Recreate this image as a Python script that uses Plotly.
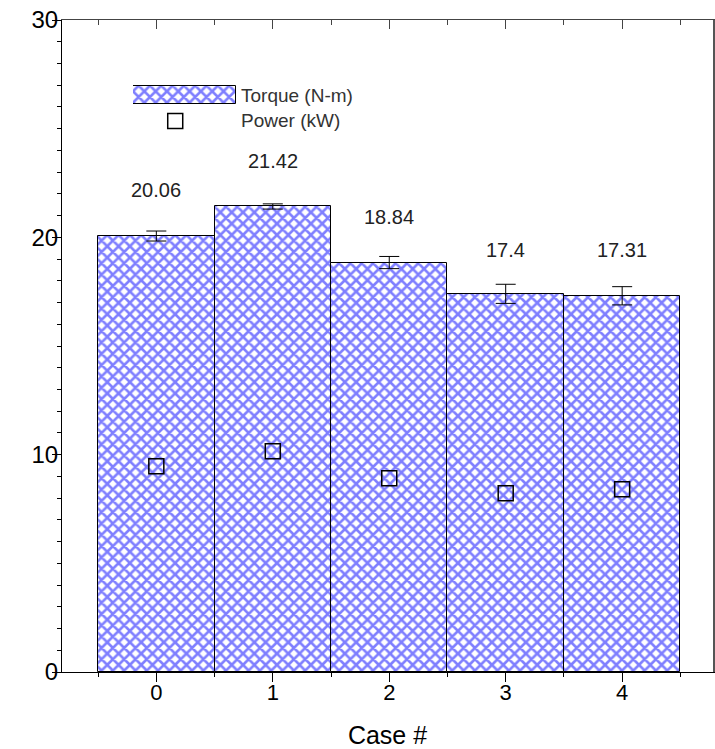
import plotly.graph_objects as go

cases = [0, 1, 2, 3, 4]
torque = [20.06, 21.42, 18.84, 17.4, 17.31]
torque_err = [0.23, 0.12, 0.28, 0.44, 0.42]
power = [9.47, 10.16, 8.92, 8.23, 8.41]
torque_labels = ["20.06", "21.42", "18.84", "17.4", "17.31"]
label_offset = [2.1, 2.1, 2.1, 2.0, 2.1]

W, H = 715, 749
OFF = 0  # page body margin removed by post_script
L, R, T, B = 62, 2, 20, 77
pw, ph = W - L - R, H - T - B

def px_x(x):
    return (x - OFF - L) / pw

def px_y(y):
    return (OFF + H - B - y) / ph

pattern = dict(shape="x", fgcolor="#0000ff", bgcolor="white", size=8, solidity=0.55)
font = "Liberation Sans, Arial, sans-serif"

fig = go.Figure()
fig.add_trace(go.Bar(
    x=cases, y=torque, width=1,
    marker=dict(color="white", pattern=pattern, line=dict(color="black", width=1)),
    error_y=dict(type="data", array=torque_err, color="black", thickness=1, width=10),
    showlegend=False,
))
fig.add_trace(go.Scatter(
    x=cases, y=power, mode="markers",
    marker=dict(symbol="square-open", size=15, color="black", line=dict(width=1.5)),
    showlegend=False,
))
# empty trace so the mirrored top/right axes are drawn
fig.add_trace(go.Scatter(x=[], y=[], xaxis="x2", yaxis="y2", showlegend=False))

# legend swatches on small overlay axes
fig.add_trace(go.Bar(
    x=[0.5], y=[0.36], base=[0.52], width=[1],
    marker=dict(color="white", pattern=pattern, line=dict(color="black", width=1)),
    xaxis="x3", yaxis="y3", showlegend=False, hoverinfo="skip",
))
fig.add_trace(go.Scatter(
    x=[0.41], y=[0.18], mode="markers",
    marker=dict(symbol="square-open", size=15, color="black", line=dict(width=1.5)),
    xaxis="x3", yaxis="y3", showlegend=False, hoverinfo="skip",
))

for c, v, t, o in zip(cases, torque, torque_labels, label_offset):
    fig.add_annotation(x=c, y=v + o, text=t, showarrow=False,
                       font=dict(family=font, size=20, color="#222"))

fig.add_annotation(xref="paper", yref="paper", x=px_x(239), y=px_y(95), text="Torque (N-m)",
                   showarrow=False, xanchor="left", yanchor="middle",
                   font=dict(family=font, size=19, color="#333"))
fig.add_annotation(xref="paper", yref="paper", x=px_x(239), y=px_y(120), text="Power (kW)",
                   showarrow=False, xanchor="left", yanchor="middle",
                   font=dict(family=font, size=19, color="#333"))

xr = [-0.81, 4.78]
yr = [0, 30]
fig.update_layout(
    width=W, height=H,
    margin=dict(l=L, r=R, t=T, b=B),
    paper_bgcolor="white", plot_bgcolor="white",
    bargap=0,
    font=dict(family=font, color="black"),
    xaxis=dict(range=xr, tickmode="linear", tick0=0, dtick=1, ticks="outside", ticklen=9,
               tickcolor="black", showline=True, linecolor="black", linewidth=1,
               showgrid=False, zeroline=False, tickfont=dict(size=22), automargin=False,
               ticklabelstandoff=-8, ticklabeloverflow="allow",
               minor=dict(ticks="outside", ticklen=4, dtick=0.5, tick0=0, tickcolor="black"),
               title=dict(text="Case #", font=dict(size=25), standoff=22)),
    yaxis=dict(range=yr, tickmode="linear", tick0=0, dtick=10, ticks="outside", ticklen=9,
               tickcolor="black", showline=True, linecolor="black", linewidth=1,
               showgrid=False, zeroline=False, tickfont=dict(size=24), automargin=False,
               ticklabelstandoff=-11, ticklabeloverflow="allow",
               minor=dict(ticks="outside", ticklen=4, dtick=1, tick0=0, tickcolor="black")),
    xaxis2=dict(range=xr, overlaying="x", side="top", anchor="y", tickmode="linear", tick0=0,
                dtick=1, ticks="inside", ticklen=9, tickcolor="#444", showline=True,
                linecolor="#444", showticklabels=False, showgrid=False, zeroline=False,
                automargin=False,
                minor=dict(ticks="inside", ticklen=5, dtick=0.5, tick0=0, tickcolor="#444")),
    yaxis2=dict(range=yr, overlaying="y", side="right", anchor="x", tickmode="linear", tick0=0,
                dtick=10, ticks="outside", ticklen=4, tickcolor="#444", showline=True,
                linecolor="#555", linewidth=2, showticklabels=False, showgrid=False,
                zeroline=False, automargin=False,
                minor=dict(ticks="outside", ticklen=2, dtick=1, tick0=0, tickcolor="#444")),
    xaxis3=dict(domain=[px_x(133), px_x(236)], range=[0, 1], anchor="y3", visible=False),
    yaxis3=dict(domain=[px_y(130), px_y(80)], range=[0, 1], anchor="x3", visible=False),
)

fig.write_html("out.html",
               config={"displayModeBar": False},
               post_script="document.body.style.margin='0';document.body.style.overflow='hidden';")
